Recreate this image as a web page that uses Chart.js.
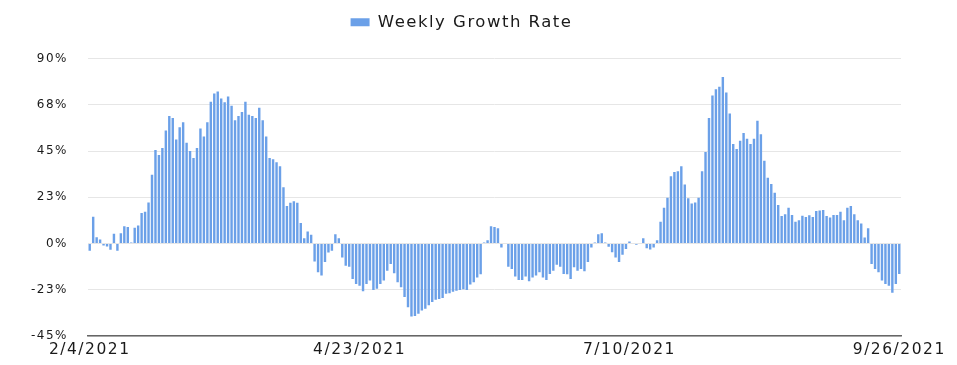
<!DOCTYPE html>
<html>
<head>
<meta charset="utf-8">
<script src="https://cdn.jsdelivr.net/npm/chart.js@4/dist/chart.umd.min.js"></script>
<style>
  html, body { margin: 0; padding: 0; background: #ffffff; }
  #wrap { width: 957px; height: 365px; }
</style>
</head>
<body>
<div id="wrap"><canvas id="c" width="957" height="365"></canvas></div>
<script>
// ---- data ----
const seriesName = 'Weekly Growth Rate';
const startDate = '2021-02-04';
const dayCount = 235;
const xTickLabels = ['2/4/2021', '4/23/2021', '7/10/2021', '9/26/2021'];
const yTickValues = [-45, -22.5, 0, 22.5, 45, 67.5, 90];
const yTickLabels = ['-45%', '-23%', '0%', '23%', '45%', '68%', '90%'];

const weeklyGrowthRate = [
  -3.5, 13, 3, 2, -1, -1.5, -3, 4.7, -3.5, 5, 8.4, 8, 0.5, 7.7, 8.7, 14.8, 15.5, 20, 33.5, 45.5,
  43, 46.5, 55, 62, 61, 50.6, 56.5, 59, 49, 45, 41.6, 46.5, 56, 52,
  59, 69, 73, 74, 70.6, 68.7, 71.5, 67, 60, 62, 64, 69, 62.6, 62, 61, 66, 60, 52, 41.6, 41,
  39.5, 37.6, 27.4, 18.2, 19.8, 20.6, 19.8, 10, 2.6, 5.8, 4.2, -8.7, -14, -15.6, -9,
  -4.4, -3.5, 4.5, 2.6, -6.8, -10.8, -11.3, -17.3, -19.7, -20.5, -23.2, -19.7, -18, -22.6, -22,
  -19.7, -18, -13.2, -10, -14.5, -18.9, -21.3, -26, -31, -35.5, -35.3, -34.2, -32.6, -31.8, -30,
  -28.5, -27.4, -27, -26.5,
  -24.5, -24.2, -23.5, -23, -22.6, -22.3, -22.6, -20, -18.9, -16.5, -15, 0.5, 1.6, 8.4, 8, 7.4,
  -2, 0, -11.3, -12.4, -16, -17.7, -17.7, -16, -18.4, -16.5, -15.6, -14, -16.5, -17.7, -14.8,
  -13.2, -10.3, -11.3, -14.8,
  -15, -17.3, -11.6, -13.2, -12.4, -13.5, -9, -2, 0.5, 4.5, 5, 0.5, -1.6, -4.2, -6.8, -9, -5.5,
  -2.7, 1, 0.3, -0.6, 0.3, 2.6, -2.3, -2.9, -2, 1.6, 10.6, 17.4, 22.3, 32.7, 34.8, 35.2, 37.6, 28.7,
  22, 19.4, 20, 22.3, 35.2, 44.5, 61, 72, 75, 76.3, 81, 73.5, 63.2, 48.4, 46, 50, 53.7, 51, 48.4,
  51, 59.7, 53.2, 40.3, 32, 29, 24.7, 18.7, 13.4, 14.2, 17.4, 13.9, 10.6, 11.3, 13.5, 12.9,
  13.7, 12.9, 15.8, 16.1, 16.3, 13.4, 12.6, 13.9, 13.9, 15.5, 11.3, 17.4, 18.2, 14.2, 11.3, 9.7,
  2.9, 7.4, -10, -12.4, -14, -18, -19.7, -20.5, -24, -19.7, -14.8
];

// category labels: one per day
const dayLabels = [];
{
  const base = new Date(startDate + 'T00:00:00Z');
  for (let i = 0; i < dayCount; i++) {
    const d = new Date(base.getTime() + i * 86400000);
    dayLabels.push((d.getUTCMonth() + 1) + '/' + d.getUTCDate() + '/' + d.getUTCFullYear());
  }
}

// ---- helpers ----
const legendSpacer = {
  id: 'legendSpacer',
  beforeInit(chart) {
    const fit = chart.legend.fit;
    chart.legend.fit = function () { fit.call(this); this.height += 18; };
  }
};
const textSpacing = {
  id: 'textSpacing',
  beforeUpdate(chart) { chart.ctx.letterSpacing = '1.5px'; },
  beforeDraw(chart) { chart.ctx.letterSpacing = '1.5px'; }
};

Chart.defaults.font.family = "'DejaVu Sans', 'Liberation Sans', Arial, sans-serif";
Chart.defaults.color = '#222222';

new Chart(document.getElementById('c'), {
  type: 'bar',
  data: {
    labels: dayLabels,
    datasets: [{
      label: seriesName,
      data: weeklyGrowthRate,
      backgroundColor: '#6ba0e8',
      borderWidth: 0,
      barPercentage: 0.7,
      categoryPercentage: 1.0
    }]
  },
  options: {
    responsive: false,
    animation: false,
    devicePixelRatio: 1,
    layout: { padding: { left: 22, right: 56, top: 4, bottom: 0 } },
    plugins: {
      legend: {
        position: 'top',
        labels: {
          boxWidth: 19,
          boxHeight: 8,
          padding: 10,
          color: '#1a1a1a',
          font: { size: 16.5 }
        }
      },
      tooltip: { enabled: false }
    },
    scales: {
      x: {
        type: 'category',
        grid: { display: false },
        border: { display: true, color: '#666666', width: 1.5 },
        ticks: {
          autoSkip: false,
          maxRotation: 0,
          minRotation: 0,
          padding: -3,
          color: '#1a1a1a',
          font: { size: 15.5 },
          callback: function (value, index) {
            const lab = dayLabels[index];
            return xTickLabels.includes(lab) ? lab : null;
          }
        },
        afterFit(scale) { scale.height = 29; }
      },
      y: {
        min: -45,
        max: 90,
        grid: { color: '#e6e6e6', lineWidth: 1, drawTicks: false },
        border: { display: false },
        afterBuildTicks(scale) {
          scale.ticks = yTickValues.map(v => ({ value: v }));
        },
        ticks: {
          padding: 20,
          color: '#1a1a1a',
          font: { size: 12 },
          callback: function (value) {
            const i = yTickValues.indexOf(value);
            return i >= 0 ? yTickLabels[i] : '';
          }
        },
        afterFit(scale) { scale.width = 66; }
      }
    }
  },
  plugins: [legendSpacer, textSpacing]
});
</script>
</body>
</html>
